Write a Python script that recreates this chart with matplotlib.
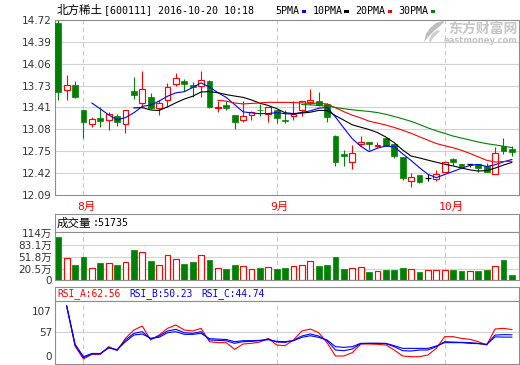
import numpy as np
import pandas as pd
import matplotlib
matplotlib.use("Agg")
import matplotlib.pyplot as plt
from matplotlib.patches import Rectangle, Polygon

plt.rcParams['font.family'] = ['DejaVu Sans', 'Noto Sans CJK SC']

# ---------------- daily bars: 北方稀土 600111 ----------------
opens = [14.68, 13.67, 13.75, 13.36, 13.16, 13.24, 13.22, 13.27, 13.16, 13.65,
         13.48, 13.57, 13.40, 13.52, 13.76, 13.81, 13.75, 13.73, 13.81, 13.40,
         13.44, 13.29, 13.22, 13.29, 13.37, 13.30, 13.36, 13.21, 13.27, 13.36,
         13.49, 13.51, 13.46, 12.98, 12.71, 12.58, 12.85, 12.89, 12.82, 12.95,
         12.86, 12.66, 12.30, 12.39, 12.34, 12.33, 12.44, 12.63, 12.56, 12.55,
         12.55, 12.52, 12.41, 12.82, 12.78]
highs = [14.72, 13.89, 13.80, 13.36, 13.26, 13.42, 13.34, 13.31, 13.36, 13.86,
         13.96, 13.62, 13.52, 13.78, 13.93, 13.84, 13.79, 13.96, 13.82, 13.51,
         13.51, 13.29, 13.50, 13.35, 13.46, 13.41, 13.36, 13.36, 13.51, 13.50,
         13.69, 13.64, 13.47, 12.99, 12.77, 12.84, 12.98, 12.89, 12.89, 12.96,
         12.86, 12.66, 12.42, 12.39, 12.40, 12.46, 12.59, 12.65, 12.56, 12.56,
         12.55, 12.57, 12.81, 12.94, 12.82]
lows = [13.52, 13.52, 13.55, 12.94, 13.11, 13.11, 13.06, 13.13, 13.02, 13.54,
        13.42, 13.38, 13.29, 13.41, 13.73, 13.65, 13.57, 13.57, 13.40, 13.33,
        13.37, 13.08, 13.19, 13.22, 13.27, 13.19, 13.17, 13.17, 13.21, 13.28,
        13.45, 13.43, 13.19, 12.52, 12.52, 12.48, 12.82, 12.77, 12.81, 12.83,
        12.65, 12.32, 12.21, 12.27, 12.30, 12.30, 12.44, 12.54, 12.51, 12.51,
        12.43, 12.43, 12.40, 12.71, 12.68]
closes = [13.64, 13.75, 13.56, 13.18, 13.23, 13.20, 13.30, 13.18, 13.36, 13.59,
          13.68, 13.40, 13.48, 13.72, 13.85, 13.76, 13.72, 13.82, 13.42, 13.42,
          13.40, 13.18, 13.28, 13.34, 13.36, 13.41, 13.25, 13.20, 13.30, 13.50,
          13.52, 13.45, 13.26, 12.58, 12.67, 12.72, 12.89, 12.85, 12.84, 12.83,
          12.67, 12.35, 12.36, 12.29, 12.34, 12.41, 12.59, 12.59, 12.53, 12.55,
          12.49, 12.43, 12.72, 12.75, 12.73]

# volume in 万手
volumes = [104.8, 50.1, 31.8, 52.7, 23.2, 37.0, 36.2, 31.8, 38.8, 70.9,
           64.9, 41.5, 31.0, 57.1, 47.5, 34.4, 38.8, 56.3, 44.1, 24.0,
           20.6, 31.0, 28.4, 20.6, 24.0, 25.8, 21.4, 24.0, 29.2, 31.0,
           41.5, 29.2, 31.8, 52.7, 21.4, 24.0, 25.8, 12.8, 15.4, 18.8,
           18.8, 24.0, 20.6, 12.8, 18.0, 18.0, 18.0, 18.0, 15.4, 15.4,
           16.2, 18.8, 29.2, 44.9, 5.1735]

nan = np.nan
rsi_a = [nan, 118.3, 23.0, -7.1, 4.0, 4.0, 22.1, 13.0, 41.8, 61.5,
         71.0, 37.9, 49.7, 65.5, 73.4, 61.5, 59.2, 65.5, 33.9, 31.6,
         31.6, 15.8, 28.4, 30.0, 33.0, 41.8, 26.0, 24.5, 37.9, 59.2,
         63.9, 55.2, 31.6, 0.0, 0.0, 7.9, 28.4, 28.4, 27.6, 26.0,
         14.2, 0.0, -1.6, -1.6, 2.4, 18.1, 45.8, 45.8, 41.8, 39.5,
         33.9, 26.0, 63.9, 65.5, 62.56]
rsi_b = [nan, 118.3, 26.0, -4.0, 5.0, 5.0, 20.5, 14.0, 37.9, 53.6,
         57.6, 40.2, 47.3, 59.2, 63.1, 55.2, 53.6, 57.6, 38.0, 37.0,
         36.0, 30.0, 33.9, 34.7, 36.3, 40.0, 33.0, 32.3, 37.0, 47.3,
         52.1, 47.3, 36.3, 14.2, 12.6, 16.6, 29.2, 30.0, 30.0, 29.2,
         22.1, 12.6, 11.8, 14.2, 14.2, 22.1, 33.9, 33.0, 32.3, 31.6,
         30.0, 27.0, 49.5, 50.6, 50.23]
rsi_c = [nan, 118.3, 28.0, -1.6, 6.0, 6.0, 19.0, 15.0, 33.9, 49.7,
         52.1, 42.0, 44.2, 55.2, 57.6, 51.3, 51.3, 53.6, 41.0, 40.0,
         39.0, 33.9, 36.3, 36.3, 37.1, 38.5, 34.7, 33.9, 36.3, 44.2,
         48.0, 44.2, 37.9, 22.1, 20.5, 22.1, 30.0, 30.0, 30.0, 30.0,
         24.5, 18.1, 18.1, 18.1, 18.1, 23.7, 31.6, 31.6, 31.6, 30.0,
         29.2, 27.5, 45.3, 44.7, 44.74]

month_starts = [3, 26, 46]
month_labels = ["8月", "9月", "10月"]

price_ticks = [12.09, 12.42, 12.75, 13.08, 13.41, 13.73, 14.06, 14.39, 14.72]
vol_ticks = [20.5, 51.8, 83.1, 114]
vol_tick_labels = ["20.5万", "51.8万", "83.1万", "114万"]
rsi_ticks = [0, 57, 107]

ma_windows = [5, 10, 20, 30]
ma_names = ["5PMA", "10PMA", "20PMA", "30PMA"]

# ---------------- styling ----------------
RED = "#ff0000"
GREEN = "#008000"
BLUE = "#0000ff"
ma_colors = [BLUE, "#000000", RED, GREEN]
FRAME = "#8e8e8e"
GRID = "#d2d2d2"
DASH = "#c8c8c8"
LBL = "#333333"
MONO = ["DejaVu Sans Mono", "Noto Sans CJK SC"]
CJK = ["Noto Sans CJK SC", "DejaVu Sans"]

W, H = 520, 365
fig = plt.figure(figsize=(W / 100, H / 100), dpi=100)
fig.patch.set_facecolor("white")


def panel(top, bottom, left=55, right=519):
    return fig.add_axes([left / W, 1 - bottom / H, (right - left) / W, (bottom - top) / H])


def px(xp, yp):
    return xp / W, 1 - yp / H


ax_p = panel(20, 195)
ax_vt = panel(214, 232)
ax_v = panel(232, 280)
ax_rt = panel(287, 301)
ax_r = panel(301, 364)

n = len(closes)
x = np.arange(n)
xlim = (-0.39, 54.85)

for ax in (ax_p, ax_vt, ax_v, ax_rt, ax_r):
    ax.set_xlim(*xlim)
    ax.set_xticks([])
    for sp in ax.spines.values():
        sp.set_color(FRAME)
        sp.set_linewidth(0.8)
    ax.tick_params(axis="y", length=0, pad=2.2, labelsize=7.5, labelcolor=LBL)
for ax in (ax_vt, ax_rt):
    ax.set_yticks([])
    ax.set_ylim(0, 1)

# ---------------- price panel ----------------
ax_p.set_ylim(12.09, 14.72)
ax_p.set_yticks(price_ticks)
ax_p.set_yticklabels([f"{t:.2f}" for t in price_ticks])
for t in price_ticks[1:-1]:
    ax_p.axhline(t, color=GRID, lw=0.8, zorder=0)

for ax in (ax_p, ax_v, ax_r):
    for m in month_starts:
        ax.axvline(m, color=DASH, lw=0.8, ls=(0, (4, 3)), zorder=0)

bw = 0.70
for i in range(n):
    o, h, l, c = opens[i], highs[i], lows[i], closes[i]
    if c > o:
        col = RED
    elif c < o:
        col = GREEN
    else:
        col = "#000000"
    ax_p.vlines(i, l, h, color=col, lw=0.8, zorder=2)
    if c == o:
        ax_p.hlines(c, i - bw / 2, i + bw / 2, color=col, lw=0.9, zorder=3)
    elif c > o:
        ax_p.add_patch(Rectangle((i - bw / 2, o), bw, c - o, facecolor="white",
                                 edgecolor=RED, lw=0.85, zorder=3))
    else:
        ax_p.add_patch(Rectangle((i - bw / 2, c), bw, o - c, facecolor=GREEN,
                                 edgecolor=GREEN, lw=0.5, zorder=3))

close_s = pd.Series(closes)
for w, col in zip(ma_windows, ma_colors):
    ax_p.plot(x, close_s.rolling(w).mean(), color=col, lw=0.8, zorder=4)

for m, lab in zip(month_starts, month_labels):
    ax_p.annotate(lab, xy=(m, 0), xycoords=("data", "axes fraction"),
                  xytext=(-6, -12), textcoords="offset pixels", ha="left",
                  va="center", color=RED, fontsize=8.2, family=MONO)

# title and moving-average key
fig.text(*px(57, 10.5), "北方稀土", family=CJK, fontsize=8.3, va="center", ha="left")
fig.text(*px(104, 10.5), "[600111] 2016-10-20 10:18", family=MONO, fontsize=7.2,
         va="center", ha="left")
key_x = [275.7, 312.3, 355.7, 398.7]
for name, col, kx in zip(ma_names, ma_colors, key_x):
    fig.text(*px(kx, 10.5), name, family=MONO, fontsize=7.2, va="center", ha="left")
    sw = 6.0 * len(name) + 2.0
    fig.patches.append(Rectangle(px(kx + sw, 12.8), 4.5 / W, 2.8 / H,
                                 transform=fig.transFigure, facecolor=col,
                                 edgecolor="none"))

# eastmoney mark
wm = "#c6c6c6"
fig.text(*px(518, 28.5), "东方财富网", family=CJK, fontsize=10, fontweight="bold",
         color=wm, ha="right", va="center", zorder=5)
fig.text(*px(518, 40.5), "eastmoney.com", family=["DejaVu Sans"], fontsize=6,
         fontweight="bold", color=wm, ha="right", va="center", zorder=5)
leaf = [(443, 21), (436, 23), (430, 28), (426, 34), (424, 42), (429, 36),
        (434, 31), (440, 26), (444, 22)]
fig.patches.append(Polygon([px(a, b) for a, b in leaf], closed=True,
                           transform=fig.transFigure, facecolor="#bdbdbd",
                           edgecolor="none", zorder=5))
leaf2 = [(437, 30), (432, 34), (429, 40), (430, 43), (433, 38), (437, 34), (440, 31)]
fig.patches.append(Polygon([px(a, b) for a, b in leaf2], closed=True,
                           transform=fig.transFigure, facecolor="#cfcfcf",
                           edgecolor="none", zorder=5))

# ---------------- volume panel ----------------
# the panel floor sits a little below zero; bars rise from the floor and the
# floor is labelled "0" as in the trading terminal
vfloor = -8.1
ax_v.set_ylim(vfloor, 117.1)
ax_v.set_yticks([vfloor] + vol_ticks)
ax_v.set_yticklabels(["0"] + vol_tick_labels)
for t in vol_ticks[:-1]:
    ax_v.axhline(t, color=GRID, lw=0.8, zorder=0)
vol = np.array(volumes)
up = np.array(closes) >= np.array(opens)
vw = 0.70
ax_v.bar(x[up], vol[up] - vfloor, bottom=vfloor, width=vw, facecolor="white",
         edgecolor=RED, lw=0.85, zorder=2)
ax_v.bar(x[~up], vol[~up] - vfloor, bottom=vfloor, width=vw, facecolor=GREEN,
         edgecolor=GREEN, lw=0.5, zorder=2)

ax_vt.text(2 / 464, 0.5, "成交量", transform=ax_vt.transAxes, family=CJK,
           fontsize=8.3, va="center", ha="left")
ax_vt.text(38 / 464, 0.5, f":{int(round(volumes[-1] * 10000))}",
           transform=ax_vt.transAxes, family=MONO, fontsize=7.2, va="center", ha="left")

# ---------------- RSI panel ----------------
ax_r.set_ylim(-18.9, 130.2)
ax_r.set_yticks(rsi_ticks)
ax_r.set_yticklabels([str(t) for t in rsi_ticks])
ax_r.axhline(57, color=GRID, lw=0.8, zorder=0)
ax_r.plot(x, rsi_a, color=RED, lw=0.8, zorder=2)
ax_r.plot(x, rsi_b, color=BLUE, lw=0.8, zorder=3)
ax_r.plot(x, rsi_c, color=BLUE, lw=0.8, zorder=3)

rsi_names = [("RSI_A", rsi_a, RED, 2.3), ("RSI_B", rsi_b, BLUE, 74.3),
             ("RSI_C", rsi_c, BLUE, 146.0)]
for name, series, col, tx in rsi_names:
    ax_rt.text(tx / 464, 0.5, f"{name}:{series[-1]:.2f}", transform=ax_rt.transAxes,
               family=MONO, fontsize=6.9, color=col, va="center", ha="left")

fig.savefig("out.png", dpi=100, facecolor="white")
